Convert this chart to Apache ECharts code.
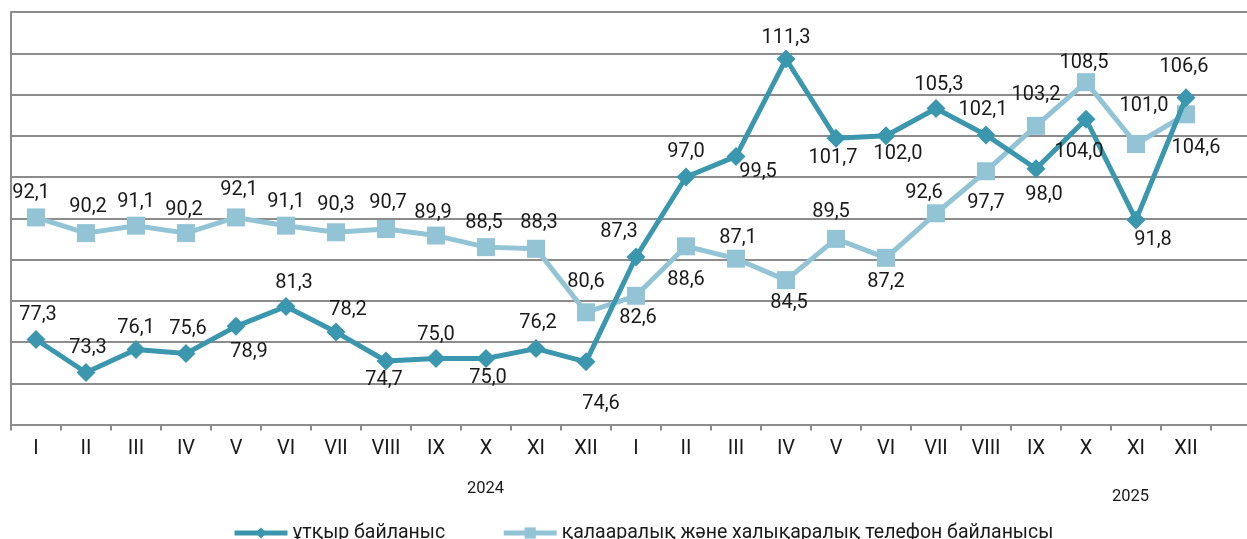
<!DOCTYPE html>
<html>
<head>
<meta charset="utf-8">
<script src="https://cdn.jsdelivr.net/npm/echarts@6/dist/echarts.min.js"></script>
<style>
html,body{margin:0;padding:0;background:#fff;}
#chart{width:1247px;height:539px;}
</style>
</head>
<body>
<div id="chart"></div>
<script>
// ---- data ----
const categories = ['I','II','III','IV','V','VI','VII','VIII','IX','X','XI','XII',
                    'I','II','III','IV','V','VI','VII','VIII','IX','X','XI','XII'];
const yearLabels = ['2024', '2025'];
const seriesNames = ['ұтқыр байланыс', 'қалааралық және халықаралық телефон байланысы'];
const mobileValues = [77.3, 73.3, 76.1, 75.6, 78.9, 81.3, 78.2, 74.7, 75.0, 75.0, 76.2, 74.6,
                      87.3, 97.0, 99.5, 111.3, 101.7, 102.0, 105.3, 102.1, 98.0, 104.0, 91.8, 106.6];
const phoneValues  = [92.1, 90.2, 91.1, 90.2, 92.1, 91.1, 90.3, 90.7, 89.9, 88.5, 88.3, 80.6,
                      82.6, 88.6, 87.1, 84.5, 89.5, 87.2, 92.6, 97.7, 103.2, 108.5, 101.0, 104.6];

// ---- label placement (style only) ----
const mobileLabelOffsets = [[2,-25],[2,-25],[0,-21],[2,-25],[13,26],[8,-24],[12,-22],[-2,19],[0,-24],[2,19],[2,-26],[15,42],
                            [-17,-25],[0,-25],[22,16],[0,-21],[-3,20],[12,18],[3,-24],[-3,-25],[8,26],[-7,33],[17,20],[-2,-31]];
const phoneLabelOffsets  = [[-5,-24],[2,-26],[0,-24],[-2,-23],[3,-27],[0,-24],[0,-27],[2,-26],[-3,-23],[-2,-24],[3,-26],[0,-30],
                            [2,22],[0,34],[2,-21],[3,23],[-5,-27],[0,24],[-12,-20],[0,32],[0,-31],[-2,-19],[8,-38],[10,34]];

const DARK = '#3b97ae';
const LIGHT = '#93c4d6';
const FONT = 'Roboto';

function fmt(p){ return p.value.toFixed(1).replace('.', ','); }
function build(values, offsets){
  return values.map((v,i)=>({value:v, label:{offset:offsets[i]}}));
}

const chart = echarts.init(document.getElementById('chart'), null, {renderer:'canvas'});
chart.setOption({
  animation:false,
  backgroundColor:'#fff',
  textStyle:{fontFamily:FONT},
  grid:{left:11, top:12, width:1250, height:412.5, containLabel:false, outerBoundsMode:'none'},
  legend:{
    data:[seriesNames[0], seriesNames[1]],
    left:232, top:523, padding:0,
    itemWidth:53, itemHeight:14, itemGap:56,
    lineStyle:{width:5},
    textStyle:{fontFamily:FONT, fontSize:19.5, color:'#1a1a1a'}
  },
  xAxis:{
    type:'category',
    data:categories.concat(['']),
    boundaryGap:true,
    axisLine:{lineStyle:{color:'#8c8c8c', width:2}},
    axisTick:{show:true, length:6, lineStyle:{color:'#8c8c8c', width:2}},
    axisLabel:{fontFamily:FONT, fontSize:20, color:'#1a1a1a', margin:14, interval:0}
  },
  yAxis:{
    type:'value', min:67, max:117, interval:5,
    axisLine:{show:true, lineStyle:{color:'#8c8c8c', width:2}},
    axisTick:{show:false},
    axisLabel:{show:false},
    splitLine:{lineStyle:{color:'#8c8c8c', width:2}}
  },
  graphic:[
    {type:'text', left:467, top:480, style:{text:yearLabels[0], fontFamily:FONT, fontSize:16.5, fill:'#1a1a1a'}},
    {type:'text', left:1112, top:488, style:{text:yearLabels[1], fontFamily:FONT, fontSize:16.5, fill:'#1a1a1a'}}
  ],
  series:[
    {
      name:seriesNames[1], type:'line',
      data:build(phoneValues, phoneLabelOffsets),
      symbol:'rect', symbolSize:18,
      lineStyle:{color:LIGHT, width:5},
      itemStyle:{color:LIGHT},
      label:{show:true, position:'inside', formatter:fmt, fontFamily:FONT, fontSize:20, color:'#1a1a1a'},
      z:2
    },
    {
      name:seriesNames[0], type:'line',
      data:build(mobileValues, mobileLabelOffsets),
      symbol:'diamond', symbolSize:[19,19],
      lineStyle:{color:DARK, width:5},
      itemStyle:{color:DARK},
      label:{show:true, position:'inside', formatter:fmt, fontFamily:FONT, fontSize:20, color:'#1a1a1a'},
      z:3
    }
  ]
});
</script>
</body>
</html>
